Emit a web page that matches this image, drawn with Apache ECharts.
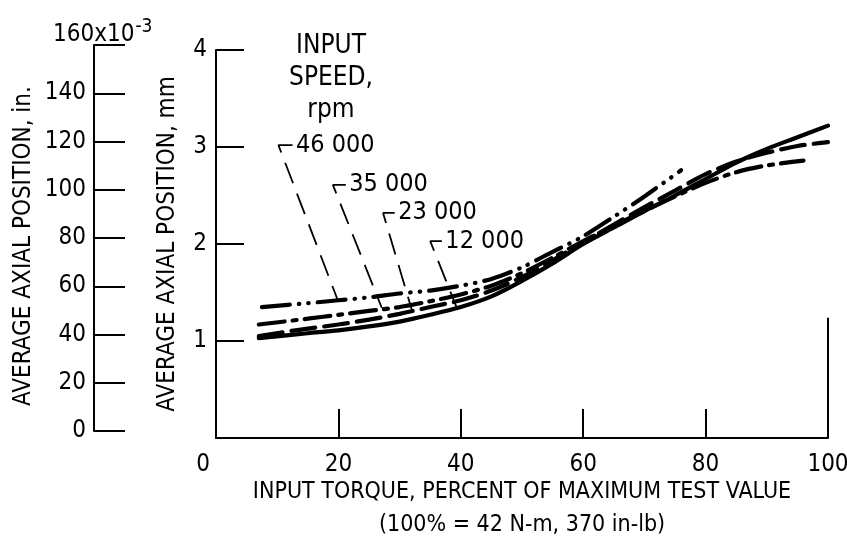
<!DOCTYPE html>
<html><head><meta charset="utf-8">
<script src="https://cdn.jsdelivr.net/npm/echarts@6/dist/echarts.min.js"></script>
<style>html,body{margin:0;padding:0;background:#fff}#c{width:847px;height:542px}</style>
</head><body><div id="c"></div>
<script>
const FONT = '"Liberation Sans Narrow","DejaVu Sans Condensed","Arial Narrow",sans-serif';

// ---- data (torque % -> average axial position, mm) ----
const torque12000 = [7, 15, 20, 25, 30, 35, 40, 45, 50, 55, 60, 65, 70, 75, 80, 85, 90, 95, 100];
const pos12000    = [1.03, 1.08, 1.11, 1.15, 1.20, 1.27, 1.35, 1.46, 1.62, 1.80, 2.00, 2.17, 2.34, 2.50, 2.67, 2.84, 2.98, 3.10, 3.22];
const torque23000 = [7, 13, 20, 25, 30, 35, 40, 45, 50, 55, 60, 65, 70, 75, 80, 85, 90, 95, 100];
const pos23000    = [1.05, 1.11, 1.17, 1.22, 1.28, 1.35, 1.42, 1.52, 1.66, 1.83, 2.02, 2.20, 2.38, 2.55, 2.72, 2.85, 2.94, 3.01, 3.05];
const torque35000 = [7, 15, 20, 25, 30, 35, 40, 45, 50, 55, 60, 65, 70, 75, 80, 85, 90, 96];
const pos35000    = [1.17, 1.23, 1.27, 1.31, 1.35, 1.41, 1.48, 1.57, 1.70, 1.86, 2.03, 2.19, 2.34, 2.49, 2.63, 2.74, 2.81, 2.86];
const torque46000 = [7.5, 15, 20, 25, 30, 35, 40, 45, 50, 55, 60, 65, 70, 76];
const pos46000    = [1.35, 1.39, 1.42, 1.45, 1.49, 1.52, 1.57, 1.64, 1.76, 1.92, 2.08, 2.28, 2.49, 2.76];

// speed labels and their leader lines (data space)
const speedLabels   = ['46 000', '35 000', '23 000', '12 000'];
const leaderTextX   = [12.5, 21.2, 29.2, 36.9];
const leaderCornerX = [10.2, 19.1, 27.3, 35.0];
const leaderCornerY = [3.02, 2.61, 2.32, 2.03];
const leaderEndX    = [19.9, 27.1, 32.0, 39.3];
const leaderEndY    = [1.42, 1.34, 1.32, 1.35];

const xTicks = [0, 20, 40, 60, 80, 100];
const mmTicks = [1, 2, 3, 4];
const inTicks = [0, 20, 40, 60, 80, 100, 120, 140];
const rightFrameTop = 1.24;

const zip = (a, b) => a.map((v, i) => [v, b[i]]);

const chart = echarts.init(document.getElementById('c'), null, {renderer: 'canvas'});

const curveBase = {
  type: 'line', xAxisIndex: 0, yAxisIndex: 0, showSymbol: false, smooth: 0.3,
  silent: true, animation: false
};
const curveStyle = (type) => ({color: '#000', width: 4.2, type: type, cap: 'round'});

const series = [
  Object.assign({}, curveBase, {name: '12 000', data: zip(torque12000, pos12000), lineStyle: curveStyle('solid'),
    markLine: {symbol: 'none', silent: true, animation: false, label: {show: false},
      lineStyle: {color: '#000', width: 2, type: 'solid'},
      data: [[{coord: [100, 0]}, {coord: [100, rightFrameTop]}]]}}),
  Object.assign({}, curveBase, {name: '23 000', data: zip(torque23000, pos23000), lineStyle: curveStyle([24, 9])}),
  Object.assign({}, curveBase, {name: '35 000', data: zip(torque35000, pos35000), lineStyle: curveStyle([26, 8, 4, 8])}),
  Object.assign({}, curveBase, {name: '46 000', data: zip(torque46000, pos46000), lineStyle: curveStyle([28, 9, 0.5, 9, 0.5, 9])})
];

speedLabels.forEach((lab, i) => {
  series.push({
    type: 'line', xAxisIndex: 0, yAxisIndex: 0, showSymbol: false, silent: true, animation: false,
    data: [[leaderTextX[i], leaderCornerY[i]], [leaderCornerX[i], leaderCornerY[i]], [leaderEndX[i], leaderEndY[i]]],
    lineStyle: {color: '#000', width: 1.8, type: [22, 11]}
  });
});
series.push({
  type: 'scatter', xAxisIndex: 0, yAxisIndex: 0, silent: true, animation: false,
  symbolSize: 1, itemStyle: {color: 'rgba(0,0,0,0)'},
  data: speedLabels.map((lab, i) => ({name: lab, value: [leaderTextX[i], leaderCornerY[i]]})),
  label: {show: true, position: 'right', distance: 3, formatter: '{b}', color: '#000',
    fontFamily: FONT, fontSize: 25, textBorderWidth: 0, opacity: 1}
});

const axisLineStyle = {color: '#000', width: 2};

chart.setOption({
  backgroundColor: '#fff',
  animation: false,
  title: {
    text: 'INPUT\nSPEED,\nrpm', left: 326, top: 25, textAlign: 'center',
    textStyle: {fontFamily: FONT, fontSize: 26, fontWeight: 'normal', lineHeight: 32, color: '#000'}
  },
  grid: [
    {left: 216, right: 19, top: 50, bottom: 104, containLabel: false, outerBoundsMode: 'none'},
    {left: 94, width: 30, top: 45, bottom: 111, containLabel: false, outerBoundsMode: 'none'}
  ],
  xAxis: [
    {gridIndex: 0, type: 'value', min: 0, max: 100, interval: 20,
      axisLine: {lineStyle: axisLineStyle},
      axisTick: {inside: true, length: 29, lineStyle: axisLineStyle},
      splitLine: {show: false},
      axisLabel: {color: '#000', fontFamily: FONT, fontSize: 24, margin: 15,
        formatter: v => xTicks.indexOf(v) < 0 ? '' : (v === 0 ? '{z|0}' : String(v)),
        rich: {z: {color: '#000', fontFamily: FONT, fontSize: 24, padding: [0, 26, 0, 0]}}},
      name: 'INPUT TORQUE, PERCENT OF MAXIMUM TEST VALUE\n(100% = 42 N-m, 370 in-lb)',
      nameLocation: 'middle', nameGap: 38, nameMoveOverlap: false,
      nameTextStyle: {color: '#000', fontFamily: FONT, fontSize: 23, lineHeight: 33, verticalAlign: 'top'}
    },
    {gridIndex: 1, type: 'value', min: 0, max: 1, show: false}
  ],
  yAxis: [
    {gridIndex: 0, type: 'value', min: 0, max: 4, interval: 1,
      axisLine: {lineStyle: axisLineStyle},
      axisTick: {inside: true, length: 28, lineStyle: axisLineStyle},
      splitLine: {show: false},
      axisLabel: {color: '#000', fontFamily: FONT, fontSize: 24, margin: 9,
        formatter: v => mmTicks.indexOf(v) < 0 ? '' : String(v)},
      name: 'AVERAGE AXIAL POSITION, mm', nameLocation: 'middle', nameGap: 36, nameMoveOverlap: false,
      nameTextStyle: {color: '#000', fontFamily: FONT, fontSize: 24}
    },
    {gridIndex: 1, type: 'value', min: 0, max: 160, interval: 20,
      axisLine: {lineStyle: axisLineStyle},
      axisTick: {inside: true, length: 31, lineStyle: axisLineStyle},
      splitLine: {show: false},
      axisLabel: {color: '#000', fontFamily: FONT, fontSize: 24, margin: 8,
        formatter: v => inTicks.indexOf(v) < 0 ? '' : String(v)},
      name: 'AVERAGE AXIAL POSITION, in.', nameLocation: 'middle', nameGap: 58, nameMoveOverlap: false,
      nameTextStyle: {color: '#000', fontFamily: FONT, fontSize: 24, padding: [0, 16, 0, 0]}
    }
  ],
  series: series
});

// top label of the inch axis, placed from the axis scale
const topY = chart.convertToPixel({yAxisIndex: 1}, 160);
const axisX = chart.convertToPixel({xAxisIndex: 1}, 0);
chart.setOption({
  graphic: [{
    type: 'text', x: axisX - 41, y: topY + 6, silent: true,
    style: {
      text: '{a|160x10}{b|-3}', verticalAlign: 'bottom', align: 'left',
      rich: {
        a: {fontFamily: FONT, fontSize: 24, fill: '#000', color: '#000'},
        b: {fontFamily: FONT, fontSize: 19, fill: '#000', color: '#000', padding: [0, 0, 14, 1]}
      }
    }
  }]
});
</script></body></html>
